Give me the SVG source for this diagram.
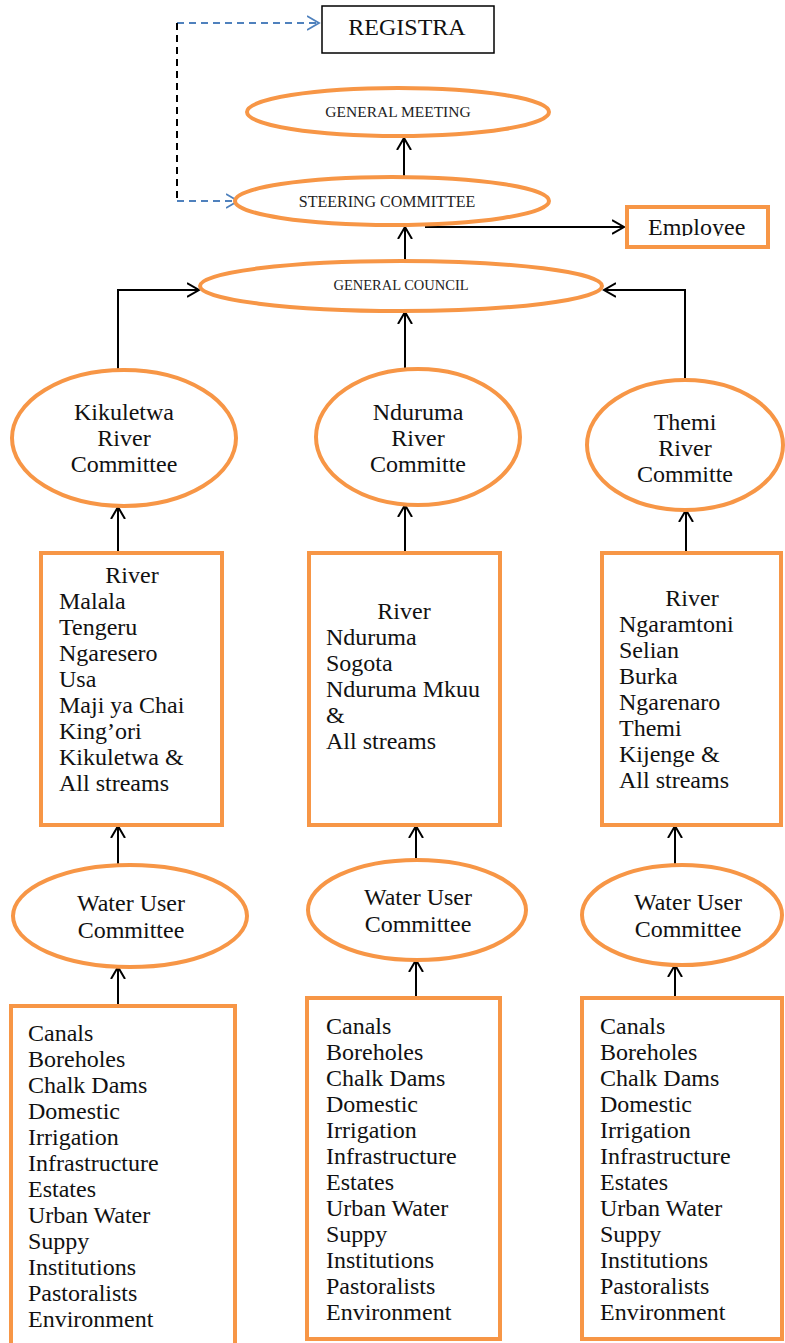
<svg xmlns="http://www.w3.org/2000/svg" width="785" height="1343" viewBox="0 0 785 1343">
<style>
.o{fill:#fff;stroke:#F79646;stroke-width:4}
.t{font-family:"Liberation Serif","Times New Roman",serif;font-size:24px;fill:#111}
.s{font-family:"Liberation Serif","Times New Roman",serif;font-size:15.5px;fill:#222}
.c{text-anchor:middle}
.a{fill:none;stroke:#000;stroke-width:2}
.d{fill:none;stroke:#4F81BD;stroke-width:1.8;stroke-dasharray:7,5}
.k{fill:none;stroke:#000;stroke-width:2;stroke-dasharray:7,5}
</style>
<defs>
<marker id="ah" markerUnits="userSpaceOnUse" markerWidth="14" markerHeight="16" refX="12" refY="7" orient="auto" viewBox="0 0 14 14">
<path d="M0,0 L12,7 L0,14" fill="none" stroke="#000" stroke-width="2"/>
</marker>
<marker id="bh" markerUnits="userSpaceOnUse" markerWidth="14" markerHeight="16" refX="12" refY="7" orient="auto" viewBox="0 0 14 14">
<path d="M0,0 L12,7 L0,14" fill="none" stroke="#4F81BD" stroke-width="1.8"/>
</marker>
<clipPath id="empclip" clipPathUnits="userSpaceOnUse"><rect x="629" y="209" width="137" height="27"/></clipPath>
</defs>
<rect width="785" height="1343" fill="#fff"/>

<g id="connectors">
<path class="d" d="M177,23 L319,23" marker-end="url(#bh)"/>
<path class="k" d="M177,23 L177,201"/>
<path class="d" d="M177,201 L238,201" marker-end="url(#bh)"/>
<path class="a" d="M404,177 L404,138" marker-end="url(#ah)"/>
<path class="a" d="M425,227 L624,227" marker-end="url(#ah)"/>
<path class="a" d="M405,261 L405,227" marker-end="url(#ah)"/>
<path class="a" d="M118,370 L118,290 L199,290" marker-end="url(#ah)"/>
<path class="a" d="M685,381 L685,290 L604,290" marker-end="url(#ah)"/>
<path class="a" d="M405,369 L405,312" marker-end="url(#ah)"/>
<path class="a" d="M118,553 L118,507" marker-end="url(#ah)"/>
<path class="a" d="M405,553 L405,505" marker-end="url(#ah)"/>
<path class="a" d="M686,553 L686,510" marker-end="url(#ah)"/>
<path class="a" d="M118,865 L118,826" marker-end="url(#ah)"/>
<path class="a" d="M416,860 L416,826" marker-end="url(#ah)"/>
<path class="a" d="M675,866 L675,826" marker-end="url(#ah)"/>
<path class="a" d="M118,1006 L118,967" marker-end="url(#ah)"/>
<path class="a" d="M416,998 L416,960" marker-end="url(#ah)"/>
<path class="a" d="M675,998 L675,965" marker-end="url(#ah)"/>
</g>

<g id="registra">
<rect x="322" y="6" width="172" height="47" fill="#fff" stroke="#000" stroke-width="1.5"/>
<text class="t c" x="407" y="35">REGISTRA</text>
</g>

<g id="general-meeting">
<ellipse class="o" cx="398" cy="112" rx="151" ry="24"/>
<text class="s c" x="398" y="117">GENERAL MEETING</text>
</g>

<g id="steering-committee">
<ellipse class="o" cx="392" cy="201" rx="157" ry="24"/>
<text class="s c" x="387" y="207" style="font-size:16px">STEERING COMMITTEE</text>
</g>

<g id="employee">
<rect class="o" x="627" y="207" width="141" height="40"/>
<g clip-path="url(#empclip)">
<text class="t" x="648" y="235">Employee</text>
</g>
</g>

<g id="general-council">
<ellipse class="o" cx="401" cy="286" rx="201" ry="25"/>
<text class="s c" x="401" y="290" style="font-size:14.5px">GENERAL COUNCIL</text>
</g>

<g id="kikuletwa-committee">
<ellipse class="o" cx="124" cy="438" rx="112" ry="68"/>
<text class="t c" x="124" y="420">Kikuletwa</text>
<text class="t c" x="124" y="446">River</text>
<text class="t c" x="124" y="472">Committee</text>
</g>

<g id="nduruma-committee">
<ellipse class="o" cx="418" cy="437" rx="102" ry="68"/>
<text class="t c" x="418" y="420">Nduruma</text>
<text class="t c" x="418" y="446">River</text>
<text class="t c" x="418" y="472">Committe</text>
</g>

<g id="themi-committee">
<ellipse class="o" cx="685" cy="445" rx="98" ry="65"/>
<text class="t c" x="685" y="430">Themi</text>
<text class="t c" x="685" y="456">River</text>
<text class="t c" x="685" y="482">Committe</text>
</g>

<g id="kikuletwa-rivers">
<rect class="o" x="41" y="553" width="181" height="272"/>
<text class="t c" x="132" y="583">River</text>
<text class="t" x="59" y="609">Malala</text>
<text class="t" x="59" y="635">Tengeru</text>
<text class="t" x="59" y="661">Ngaresero</text>
<text class="t" x="59" y="687">Usa</text>
<text class="t" x="59" y="713">Maji ya Chai</text>
<text class="t" x="59" y="739">King’ori</text>
<text class="t" x="59" y="765">Kikuletwa &amp;</text>
<text class="t" x="59" y="791">All streams</text>
</g>

<g id="nduruma-rivers">
<rect class="o" x="309" y="553" width="191" height="272"/>
<text class="t c" x="404" y="619">River</text>
<text class="t" x="326" y="645">Nduruma</text>
<text class="t" x="326" y="671">Sogota</text>
<text class="t" x="326" y="697">Nduruma Mkuu</text>
<text class="t" x="326" y="723">&amp;</text>
<text class="t" x="326" y="749">All streams</text>
</g>

<g id="themi-rivers">
<rect class="o" x="602" y="553" width="179" height="272"/>
<text class="t c" x="692" y="606">River</text>
<text class="t" x="619" y="632">Ngaramtoni</text>
<text class="t" x="619" y="658">Selian</text>
<text class="t" x="619" y="684">Burka</text>
<text class="t" x="619" y="710">Ngarenaro</text>
<text class="t" x="619" y="736">Themi</text>
<text class="t" x="619" y="762">Kijenge &amp;</text>
<text class="t" x="619" y="788">All streams</text>
</g>

<g id="wuc-left">
<ellipse class="o" cx="130" cy="916" rx="117" ry="51"/>
<text class="t c" x="131" y="911">Water User</text>
<text class="t c" x="131" y="938">Committee</text>
</g>

<g id="wuc-mid">
<ellipse class="o" cx="417" cy="910" rx="109" ry="50"/>
<text class="t c" x="418" y="905">Water User</text>
<text class="t c" x="418" y="932">Committee</text>
</g>

<g id="wuc-right">
<ellipse class="o" cx="682" cy="915" rx="100" ry="50"/>
<text class="t c" x="688" y="910">Water User</text>
<text class="t c" x="688" y="937">Committee</text>
</g>

<g id="users-left">
<rect class="o" x="11" y="1006" width="224" height="345"/>
<text class="t" x="28" y="1041">Canals</text>
<text class="t" x="28" y="1067">Boreholes</text>
<text class="t" x="28" y="1093">Chalk Dams</text>
<text class="t" x="28" y="1119">Domestic</text>
<text class="t" x="28" y="1145">Irrigation</text>
<text class="t" x="28" y="1171">Infrastructure</text>
<text class="t" x="28" y="1197">Estates</text>
<text class="t" x="28" y="1223">Urban Water</text>
<text class="t" x="28" y="1249">Suppy</text>
<text class="t" x="28" y="1275">Institutions</text>
<text class="t" x="28" y="1301">Pastoralists</text>
<text class="t" x="28" y="1327">Environment</text>
</g>

<g id="users-mid">
<rect class="o" x="307" y="998" width="193" height="341"/>
<text class="t" x="326" y="1034">Canals</text>
<text class="t" x="326" y="1060">Boreholes</text>
<text class="t" x="326" y="1086">Chalk Dams</text>
<text class="t" x="326" y="1112">Domestic</text>
<text class="t" x="326" y="1138">Irrigation</text>
<text class="t" x="326" y="1164">Infrastructure</text>
<text class="t" x="326" y="1190">Estates</text>
<text class="t" x="326" y="1216">Urban Water</text>
<text class="t" x="326" y="1242">Suppy</text>
<text class="t" x="326" y="1268">Institutions</text>
<text class="t" x="326" y="1294">Pastoralists</text>
<text class="t" x="326" y="1320">Environment</text>
</g>

<g id="users-right">
<rect class="o" x="582" y="998" width="200" height="341"/>
<text class="t" x="600" y="1034">Canals</text>
<text class="t" x="600" y="1060">Boreholes</text>
<text class="t" x="600" y="1086">Chalk Dams</text>
<text class="t" x="600" y="1112">Domestic</text>
<text class="t" x="600" y="1138">Irrigation</text>
<text class="t" x="600" y="1164">Infrastructure</text>
<text class="t" x="600" y="1190">Estates</text>
<text class="t" x="600" y="1216">Urban Water</text>
<text class="t" x="600" y="1242">Suppy</text>
<text class="t" x="600" y="1268">Institutions</text>
<text class="t" x="600" y="1294">Pastoralists</text>
<text class="t" x="600" y="1320">Environment</text>
</g>
</svg>
